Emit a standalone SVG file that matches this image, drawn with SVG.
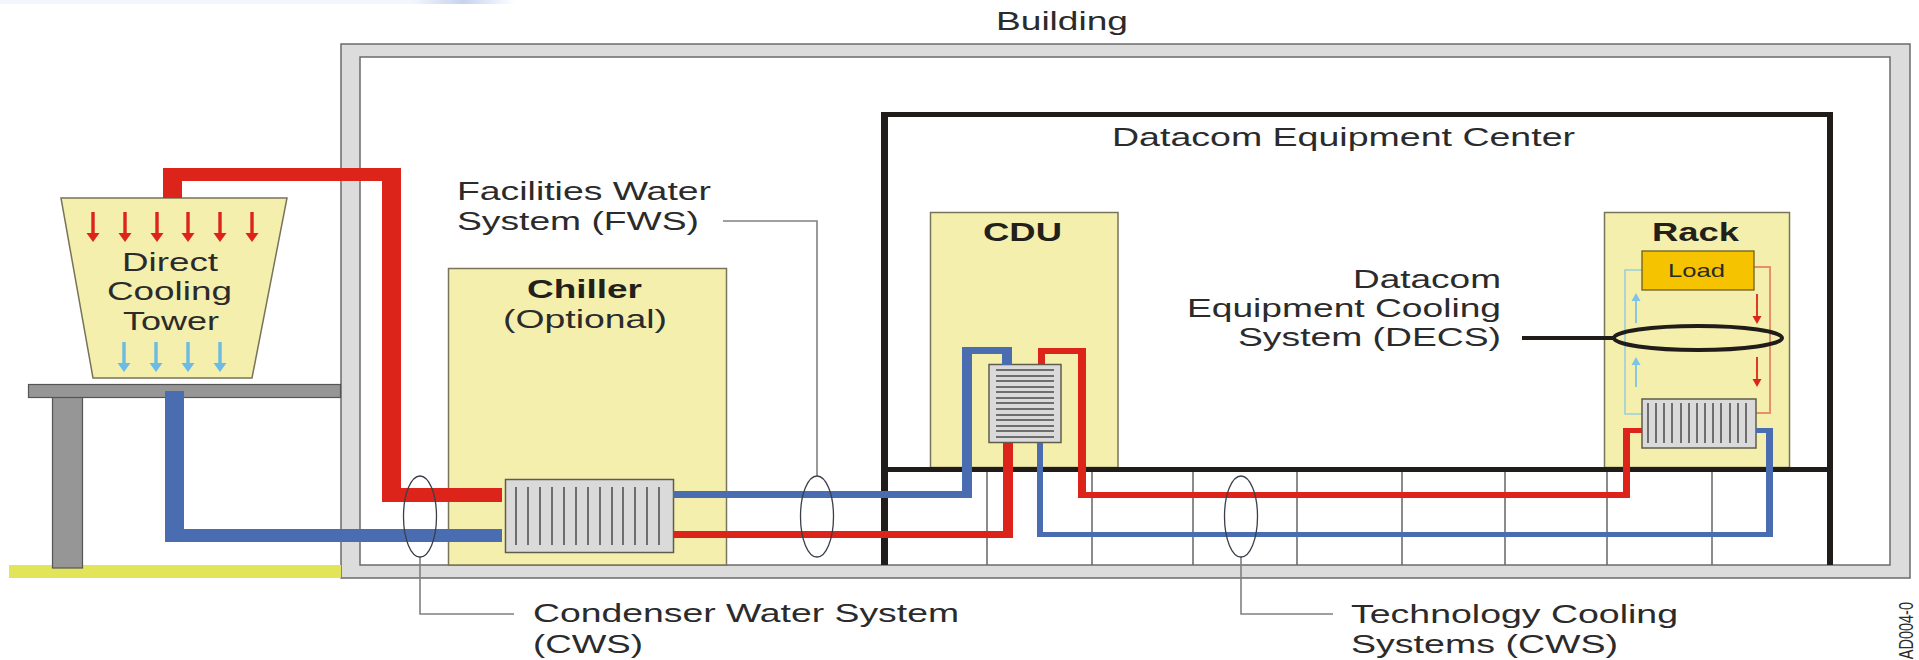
<svg xmlns="http://www.w3.org/2000/svg" width="1919" height="660" viewBox="0 0 1919 660">
<style>
text{font-family:"Liberation Sans",Arial,sans-serif;font-size:25px;fill:#2b2b2b}
.b{font-weight:700;fill:#231f1a}
.box{fill:#f5efae;stroke:#77745a;stroke-width:1.5}
.hx{fill:#dadada;stroke:#5f5c4c;stroke-width:1.5}
.fin{fill:none;stroke:#6e6e6e;stroke-width:2}
.red{fill:#dc241a}
.blue{fill:#4a6cb0}
.oval{fill:none;stroke:#3a3f48;stroke-width:1.3}
.lead{fill:none;stroke:#808080;stroke-width:1.6}
.div{fill:none;stroke:#666;stroke-width:1.5}
.dark{fill:#1f1c1a}
</style>
<defs>
<linearGradient id="smear" x1="0" x2="1" y1="0" y2="0"><stop offset="0" stop-color="#f3f6fc"/><stop offset="0.8" stop-color="#f3f6fc"/><stop offset="0.9" stop-color="#c6d3ef"/><stop offset="1" stop-color="#ffffff"/></linearGradient>
<path id="ar" d="M-1.7 0H1.7V21H6.5L0 30L-6.5 21H-1.7Z"/>
<path id="as" d="M-.9 0H.9V22H4.5L0 30L-4.5 22H-.9Z"/>
</defs>
<rect x="0" y="0" width="515" height="4" fill="url(#smear)"/>

<g id="building">
<rect x="341" y="44" width="1569" height="534" fill="#dcdcdc" stroke="#6b6b6b" stroke-width="1.5"/>
<rect x="360" y="57" width="1530" height="508" fill="#fff" stroke="#6b6b6b" stroke-width="1.5"/>
<text x="996" y="30" textLength="132" lengthAdjust="spacingAndGlyphs">Building</text>
</g>

<g id="support">
<rect x="9" y="565" width="332" height="13" fill="#e2e55a"/>
<rect x="52.500" y="397" width="30" height="171" fill="#969696" stroke="#555" stroke-width="1.2"/>
<rect x="28.500" y="384.500" width="312" height="13" fill="#969696" stroke="#555" stroke-width="1.2"/>
</g>

<g id="tower">
<path class="box" d="M61 198H287L252 378H93Z"/>
<g class="red"><use href="#ar" x="93" y="212"/><use href="#ar" x="125" y="212"/><use href="#ar" x="157" y="212"/><use href="#ar" x="188" y="212"/><use href="#ar" x="220" y="212"/><use href="#ar" x="252" y="212"/></g>
<g fill="#6cbbe4"><use href="#ar" x="124" y="342"/><use href="#ar" x="156" y="342"/><use href="#ar" x="188" y="342"/><use href="#ar" x="220" y="342"/></g>
<text x="122" y="271" textLength="96" lengthAdjust="spacingAndGlyphs">Direct</text>
<text x="107" y="300" textLength="125" lengthAdjust="spacingAndGlyphs">Cooling</text>
<text x="123" y="330" textLength="96" lengthAdjust="spacingAndGlyphs">Tower</text>
</g>

<g id="dec">
<path class="dark" d="M881 112H1833V565H1827V117H888V565H881Z"/>
<path class="div" d="M987 472V565M1092 472V565M1193 472V565M1297 472V565M1402 472V565M1505 472V565M1607 472V565M1712 472V565"/>
<text x="1112" y="146" textLength="463" lengthAdjust="spacingAndGlyphs">Datacom Equipment Center</text>
</g>

<g id="chiller">
<rect class="box" x="448.500" y="268.500" width="278" height="296.500"/>
<text class="b" x="527" y="298" textLength="115" lengthAdjust="spacingAndGlyphs">Chiller</text>
<text x="503" y="328" textLength="164" lengthAdjust="spacingAndGlyphs">(Optional)</text>
<rect class="hx" x="505.500" y="479.500" width="168" height="73"/>
<path class="fin" d="M516 487V545M528 487V545M540 487V545M552 487V545M564 487V545M576 487V545M588 487V545M600 487V545M612 487V545M623 487V545M635 487V545M647 487V545M659 487V545"/>
</g>

<g id="cdu">
<rect class="box" x="930.500" y="212.500" width="187.500" height="255"/>
<text class="b" x="983" y="241" textLength="79" lengthAdjust="spacingAndGlyphs">CDU</text>
<rect class="hx" x="989" y="364.500" width="72" height="78"/>
<path class="fin" d="M996 370H1054M996 376H1054M996 381H1054M996 387H1054M996 392H1054M996 398H1054M996 403H1054M996 409H1054M996 415H1054M996 420H1054M996 426H1054M996 431H1054M996 437H1054"/>
</g>

<g id="rack">
<rect class="box" x="1604.500" y="212.500" width="185" height="255"/>
<text class="b" x="1652" y="241" textLength="87" lengthAdjust="spacingAndGlyphs">Rack</text>
<path d="M1754 267H1770V413H1756" fill="none" stroke="#e58f6c" stroke-width="2"/>
<path d="M1642 270H1625V414H1642" fill="none" stroke="#97cfdc" stroke-width="1.6"/>
<g id="load"><rect x="1642" y="251" width="112" height="39" fill="#f5c300" stroke="#6d5f1c" stroke-width="1.3"/>
<text x="1668" y="277" style="font-size:19px" textLength="57" lengthAdjust="spacingAndGlyphs">Load</text></g>
<g class="red"><use href="#as" x="1757" y="294"/><use href="#as" x="1757" y="357"/></g>
<g fill="#7cc3e6"><use href="#as" transform="translate(1636 323) scale(1 -1)"/><use href="#as" transform="translate(1636 387) scale(1 -1)"/></g>
<rect class="hx" x="1642" y="399" width="114" height="49"/>
<path class="fin" d="M1648 403V443M1656 403V443M1664 403V443M1672 403V443M1681 403V443M1689 403V443M1697 403V443M1705 403V443M1713 403V443M1721 403V443M1730 403V443M1738 403V443M1746 403V443"/>
</g>

<rect id="floor" class="dark" x="888" y="467" width="939" height="5"/>

<g id="connectors">
<path class="red" d="M163 198V168H401V488H502V502H382V181H182V198Z"/>
<path class="blue" d="M165 391H184V529H502V542H165Z"/>
<path class="blue" d="M673 491H962V347H1012V365H1002V354H972V498H673Z"/>
<path class="red" d="M673 531H1003V443H1013V538H673Z"/>
<path class="red" d="M1038 364V348H1086V492H1623V428H1642V433H1630V498H1078V354H1045V364Z"/>
<path class="blue" d="M1037 443V537H1773V428H1756V433H1766V532H1043V443Z"/>
<path class="lead" d="M420 557V614H514"/>
<path class="lead" d="M723 221H817V476"/>
<path class="lead" d="M1241 557V614H1333"/>
<path d="M1522 338H1614" fill="none" stroke="#1f1c1a" stroke-width="4"/>
<ellipse class="oval" cx="420" cy="516.500" rx="16.500" ry="40.500"/>
<ellipse class="oval" cx="817" cy="516.500" rx="16.500" ry="40.500"/>
<ellipse class="oval" cx="1241" cy="516.500" rx="16.500" ry="40.500"/>
<ellipse cx="1698" cy="338" rx="84" ry="12" fill="none" stroke="#1f1c1a" stroke-width="4"/>
</g>

<g id="labels">
<text x="457" y="200" textLength="254" lengthAdjust="spacingAndGlyphs">Facilities Water</text>
<text x="457" y="230" textLength="242" lengthAdjust="spacingAndGlyphs">System (FWS)</text>
<text x="1353" y="288" textLength="148" lengthAdjust="spacingAndGlyphs">Datacom</text>
<text x="1187" y="317" textLength="314" lengthAdjust="spacingAndGlyphs">Equipment Cooling</text>
<text x="1238" y="346" textLength="263" lengthAdjust="spacingAndGlyphs">System (DECS)</text>
<text x="533" y="622" textLength="426" lengthAdjust="spacingAndGlyphs">Condenser Water System</text>
<text x="533" y="653" textLength="110" lengthAdjust="spacingAndGlyphs">(CWS)</text>
<text x="1351" y="623" textLength="327" lengthAdjust="spacingAndGlyphs">Technology Cooling</text>
<text x="1351" y="653" textLength="267" lengthAdjust="spacingAndGlyphs">Systems (CWS)</text>
<text transform="translate(1913 660) scale(1.35 1) rotate(-90)" x="58" y="0" text-anchor="end" style="font-size:14.500px">AD004-0</text>
</g>
</svg>
